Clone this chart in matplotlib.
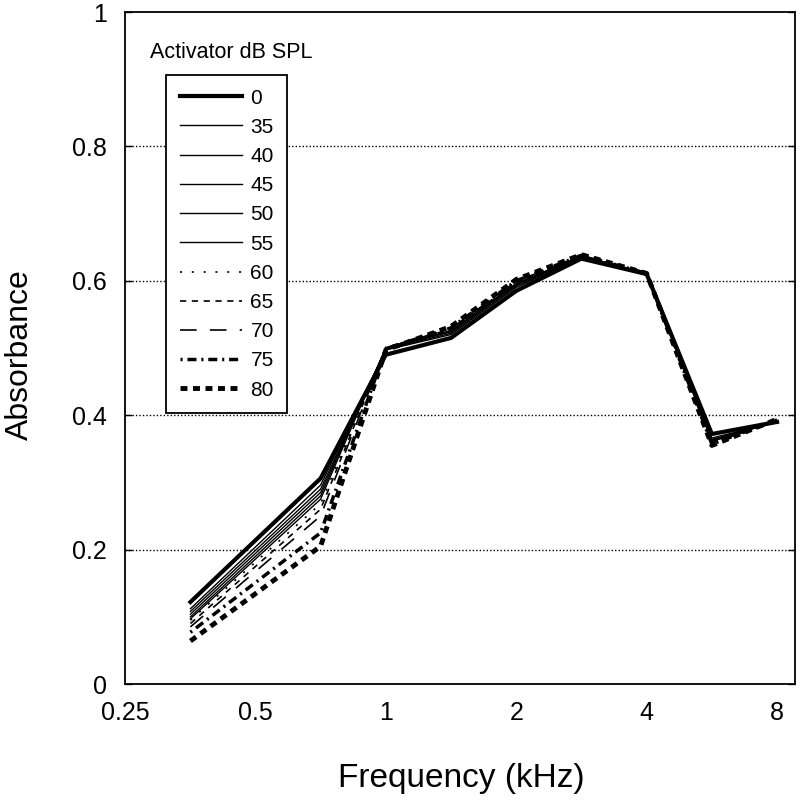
import matplotlib
matplotlib.use("Agg")
import matplotlib.pyplot as plt
from matplotlib.ticker import FixedLocator, FixedFormatter, NullLocator

plt.rcParams['font.family'] = ['Liberation Sans', 'DejaVu Sans']
plt.rcParams['lines.scale_dashes'] = False

# ---- data ----
freq_khz = [0.354, 0.707, 1.0, 1.414, 2.0, 2.828, 4.0, 5.657, 8.0]
levels = ["0", "35", "40", "45", "50", "55", "60", "65", "70", "75", "80"]
abs_0  = [0.122, 0.306, 0.490, 0.515, 0.585, 0.633, 0.610, 0.372, 0.390]
abs_35 = [0.112, 0.296, 0.497, 0.520, 0.590, 0.635, 0.610, 0.366, 0.390]
abs_40 = [0.108, 0.290, 0.498, 0.522, 0.592, 0.636, 0.610, 0.364, 0.390]
abs_45 = [0.104, 0.285, 0.499, 0.524, 0.594, 0.636, 0.611, 0.363, 0.391]
abs_50 = [0.100, 0.280, 0.500, 0.525, 0.595, 0.637, 0.611, 0.362, 0.391]
abs_55 = [0.097, 0.275, 0.500, 0.526, 0.596, 0.637, 0.611, 0.361, 0.391]
abs_60 = [0.095, 0.268, 0.501, 0.527, 0.597, 0.637, 0.611, 0.360, 0.392]
abs_65 = [0.090, 0.260, 0.501, 0.528, 0.598, 0.638, 0.611, 0.359, 0.392]
abs_70 = [0.085, 0.250, 0.500, 0.529, 0.599, 0.638, 0.611, 0.358, 0.392]
abs_75 = [0.077, 0.225, 0.499, 0.530, 0.600, 0.638, 0.611, 0.357, 0.393]
abs_80 = [0.064, 0.205, 0.497, 0.532, 0.602, 0.639, 0.611, 0.355, 0.394]
series = [abs_0, abs_35, abs_40, abs_45, abs_50, abs_55,
          abs_60, abs_65, abs_70, abs_75, abs_80]

x_ticks = [0.25, 0.5, 1, 2, 4, 8]
x_tick_labels = ["0.25", "0.5", "1", "2", "4", "8"]
y_ticks = [0, 0.2, 0.4, 0.6, 0.8, 1.0]
y_tick_labels = ["0", "0.2", "0.4", "0.6", "0.8", "1"]

# ---- styles ----
styles = [
    dict(lw=3.0, ls='-'),
    dict(lw=1.0, ls='-'),
    dict(lw=1.0, ls='-'),
    dict(lw=1.0, ls='-'),
    dict(lw=1.0, ls='-'),
    dict(lw=1.0, ls='-'),
    dict(lw=1.2, ls=(0, (1.5, 7))),
    dict(lw=1.2, ls=(0, (4.5, 4))),
    dict(lw=1.2, ls=(0, (12, 9.5))),
    dict(lw=2.5, ls=(0, (1.5, 3.5, 6.5, 3.5))),
    dict(lw=3.5, ls=(0, (5, 4))),
]

W, H = 800, 802
fig = plt.figure(figsize=(W / 100, H / 100), dpi=100)
L, R, T, B = 125, 795, 12, 684
ax = fig.add_axes([L / W, 1 - B / H, (R - L) / W, (B - T) / H])

for lab, vals, st in zip(levels, series, styles):
    ax.plot(freq_khz, vals, color='black', label=lab,
            solid_joinstyle='round', dash_capstyle='butt', **st)

ax.set_xscale('log', base=2)
ax.set_xlim(0.25, 8.8)
ax.set_ylim(0, 1)
ax.xaxis.set_major_locator(FixedLocator(x_ticks))
ax.xaxis.set_major_formatter(FixedFormatter(x_tick_labels))
ax.xaxis.set_minor_locator(NullLocator())
ax.yaxis.set_major_locator(FixedLocator(y_ticks))
ax.yaxis.set_major_formatter(FixedFormatter(y_tick_labels))

ax.tick_params(axis='x', length=0, labelsize=18, pad=12)
ax.tick_params(axis='y', direction='in', length=5, width=1.0,
               left=True, right=True, labelsize=18, pad=13)
for s in ax.spines.values():
    s.set_linewidth(1.3)
    s.set_color('black')

for yv in [0.2, 0.4, 0.6, 0.8]:
    ax.axhline(yv, color='black', lw=1.0, ls=(0, (1, 1.5)), zorder=0)

fig.text(20 / W, 1 - 355 / H, "Absorbance", rotation=90, fontsize=23,
         ha='center', va='center')
fig.text(461 / W, 1 - 778 / H, "Frequency (kHz)", fontsize=24,
         ha='center', va='center')

leg = ax.legend(loc='upper left',
                bbox_to_anchor=((166 - L) / (R - L), (B - 75) / (B - T)),
                borderaxespad=0, fontsize=15, handlelength=3.0,
                handletextpad=0.4, labelspacing=0.49, borderpad=0.65,
                frameon=True, fancybox=False, framealpha=1, edgecolor='black')
leg.get_frame().set_linewidth(1.3)

fig.text(150 / W, 1 - 53 / H, "Activator dB SPL", fontsize=15.5,
         ha='left', va='center')

fig.savefig("out.png", dpi=100)
